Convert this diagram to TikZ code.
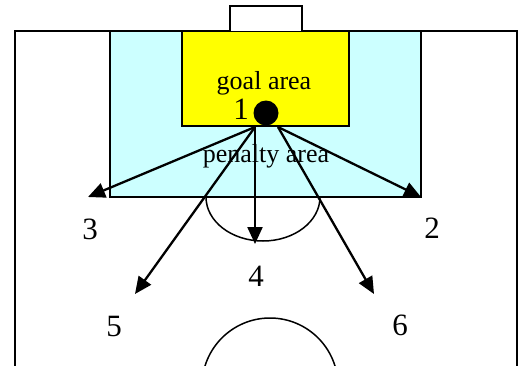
\documentclass[tikz,border=0pt]{standalone}
\usepackage{fontspec}
\setmainfont{Liberation Serif}
\usetikzlibrary{arrows.meta}

\definecolor{penaltycyan}{HTML}{CCFFFF}
\definecolor{goalyellow}{HTML}{FFFF00}

\begin{document}
\begin{tikzpicture}[x=1pt, y=-1pt,
    line/.style={line width=2pt},
    shot/.style={line width=2.3pt, -{Triangle[length=17pt,width=15pt]}},
    areatext/.style={font=\fontsize{26}{26}\selectfont, anchor=base, inner sep=0pt},
    spot/.style={font=\fontsize{31}{31}\selectfont, anchor=base, inner sep=0pt}]

    % Fix the size of the picture
    \useasboundingbox (0,0) rectangle (525,365);
    \clip (0,0) rectangle (525,365);

    % Penalty area and goal area
    \draw [line, fill=penaltycyan] (110,31) rectangle (421,197);
    \draw [line, fill=goalyellow] (182,31) rectangle (349,126);

    % Touch lines and goal line
    \draw [line] (15,370) -- (15,31) -- (517,31) -- (517,370);

    % Goal
    \draw [line, fill=white] (230,31) -- (230,6) -- (302,6) -- (302,31);

    % Penalty arc and centre circle
    \draw [line width=1.5pt] (206,197) arc [start angle=180, end angle=360, x radius=57pt, y radius=44pt];
    \draw [line width=1.5pt] (270,386) circle [radius=68pt];

    % Ball and kick points
    \node (ball) at (266,113) [circle, fill=black, minimum size=25pt, inner sep=0pt] {};
    \coordinate (kickL) at (255,127);
    \coordinate (kickR) at (278,127);

    % Arrow tips
    \coordinate (to3) at (88,197);
    \coordinate (to2) at (421,197);
    \coordinate (to4) at (255,244);
    \coordinate (to5) at (135,294);
    \coordinate (to6) at (374,294);

    % Texts
    \node (goal) at (264,89) [areatext] {goal area};
    \node (penalty) at (266,162) [areatext] {penalty area};

    % Draw the shots
    \draw [shot] (kickL) -- (to3);
    \draw [shot] (kickL) -- (to5);
    \draw [shot] (kickL) -- (to4);
    \draw [shot] (kickR) -- (to6);
    \draw [shot] (kickR) -- (to2);

    % Label the spots
    \node (s1) at (241,119) [spot] {1};
    \node (s2) at (432,238) [spot] {2};
    \node (s3) at (90,239) [spot] {3};
    \node (s4) at (256,286) [spot] {4};
    \node (s5) at (114,336) [spot] {5};
    \node (s6) at (400,335) [spot] {6};

\end{tikzpicture}
\end{document}
